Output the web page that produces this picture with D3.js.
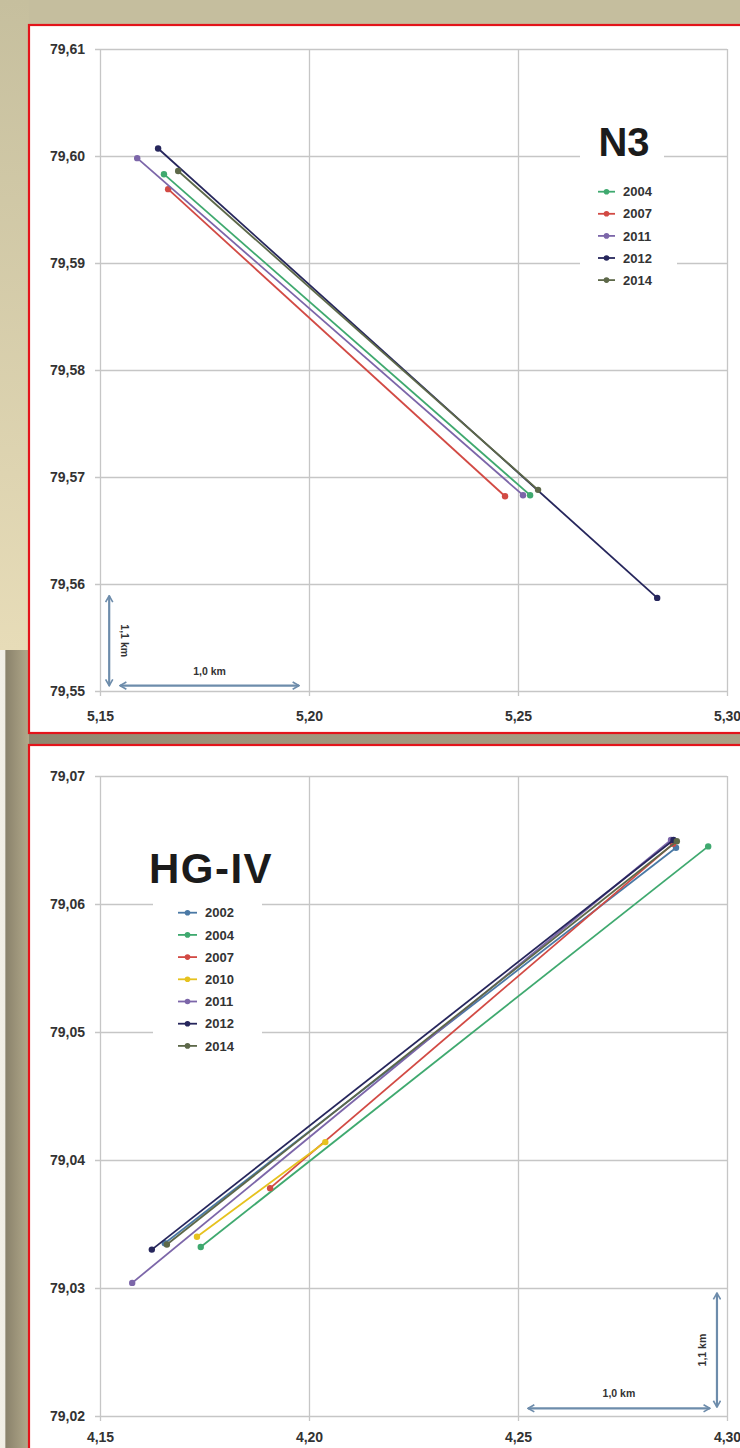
<!DOCTYPE html>
<html>
<head>
<meta charset="utf-8">
<script src="https://cdn.jsdelivr.net/npm/d3@7/dist/d3.min.js"></script>
<style>
  html, body { margin: 0; padding: 0; background: #bdb494; }
  svg { display: block; font-family: "Liberation Sans", Arial, sans-serif; }
</style>
</head>
<body>
<svg id="chart"></svg>
<script>
// glacier front positions, lon/lat pairs (start, end) per survey year
const n3Years = ["2004", "2007", "2011", "2012", "2014"]
const n3Lon = [[5.1653, 5.2529], [5.1663, 5.2469], [5.1589, 5.2512], [5.1639, 5.2833], [5.1687, 5.2548]]
const n3Lat = [[79.5983, 79.5683], [79.5969, 79.5682], [79.5998, 79.5683], [79.6007, 79.5587], [79.5986, 79.5688]]
const n3XTicks = [5.15, 5.20, 5.25, 5.30]
const n3YTicks = [79.55, 79.56, 79.57, 79.58, 79.59, 79.60, 79.61]

const hgYears = ["2002", "2004", "2007", "2010", "2011", "2012", "2014"]
const hgLon = [[4.1655, 4.2878], [4.1741, 4.2955], [4.1907, 4.2871], [4.1732, 4.2039], [4.1577, 4.2866], [4.1624, 4.2872], [4.1660, 4.2880]]
const hgLat = [[79.0335, 79.0644], [79.0332, 79.0645], [79.0378, 79.0647], [79.0340, 79.0414], [79.0304, 79.0650], [79.0330, 79.0650], [79.0334, 79.0649]]
const hgXTicks = [4.15, 4.20, 4.25, 4.30]
const hgYTicks = [79.02, 79.03, 79.04, 79.05, 79.06, 79.07]

const yearColor = {
  "2002": "#4a79a5",
  "2004": "#3fa96f",
  "2007": "#d24a44",
  "2010": "#e6c21e",
  "2011": "#7c66a9",
  "2012": "#26265c",
  "2014": "#5d6849"
}
const gridColor = "#c6c6c6"
const arrowColor = "#6d8cab"
const labelColor = "#333333"

const W = 740, H = 1448
const svg = d3.select("#chart").attr("width", W).attr("height", H)
const defs = svg.append("defs")

// background *******************************
const topGrad = defs.append("linearGradient").attr("id", "bgTop")
  .attr("x1", 0).attr("y1", 0).attr("x2", 0).attr("y2", 1)
topGrad.append("stop").attr("offset", "0%").attr("stop-color", "#c6bf9e")
topGrad.append("stop").attr("offset", "100%").attr("stop-color", "#e7dcb8")

const lowGrad = defs.append("linearGradient").attr("id", "bgLow")
  .attr("x1", 0).attr("y1", 0).attr("x2", 1).attr("y2", 0)
lowGrad.append("stop").attr("offset", "0%").attr("stop-color", "#f2efe6")
lowGrad.append("stop").attr("offset", "17%").attr("stop-color", "#f0ede4")
lowGrad.append("stop").attr("offset", "20%").attr("stop-color", "#8a826b")
lowGrad.append("stop").attr("offset", "100%").attr("stop-color", "#b2a98b")

const gapGrad = defs.append("linearGradient").attr("id", "bgGap")
  .attr("x1", 0).attr("y1", 0).attr("x2", 1).attr("y2", 0)
gapGrad.append("stop").attr("offset", "0%").attr("stop-color", "#8c846d")
gapGrad.append("stop").attr("offset", "30%").attr("stop-color", "#9c937a")
gapGrad.append("stop").attr("offset", "100%").attr("stop-color", "#aaa186")

svg.append("rect").attr("width", W).attr("height", H).attr("fill", "#c5be9e")
svg.append("rect").attr("x", 0).attr("y", 0).attr("width", 29).attr("height", 650).attr("fill", "url(#bgTop)")
svg.append("rect").attr("x", 0).attr("y", 733).attr("width", W).attr("height", 12).attr("fill", "url(#bgGap)")
svg.append("rect").attr("x", 0).attr("y", 650).attr("width", 29).attr("height", H - 650).attr("fill", "url(#bgLow)")

// arrow head for scale bars
defs.append("marker")
  .attr("id", "chev")
  .attr("viewBox", "0 0 10 10")
  .attr("refX", 9).attr("refY", 5)
  .attr("markerWidth", 9).attr("markerHeight", 9)
  .attr("markerUnits", "userSpaceOnUse")
  .attr("orient", "auto-start-reverse")
  .append("path")
  .attr("d", "M2,1 L9,5 L2,9")
  .attr("fill", "none")
  .attr("stroke", arrowColor)
  .attr("stroke-width", 1.8)

const fmt = v => d3.format(".2f")(v).replace(".", ",")

function drawPanel(cfg) {
  // red frame
  svg.append("rect")
    .attr("x", cfg.frame[0]).attr("y", cfg.frame[1])
    .attr("width", cfg.frame[2]).attr("height", cfg.frame[3])
    .attr("fill", "#ffffff")
    .attr("stroke", "#e3141b")
    .attr("stroke-width", 2.2)

  const w = cfg.plot[2], h = cfg.plot[3]
  const g = svg.append("g").attr("transform", `translate(${cfg.plot[0]}, ${cfg.plot[1]})`)

  const x = d3.scaleLinear().domain(d3.extent(cfg.xTicks)).range([0, w])
  const y = d3.scaleLinear().domain(d3.extent(cfg.yTicks)).range([h, 0])

  // axes + grid
  const xAxis = g.append("g")
    .attr("transform", `translate(0, ${h + 5})`)
    .call(d3.axisBottom(x).tickValues(cfg.xTicks).tickFormat(fmt)
      .tickSizeInner(-(h + 5)).tickSizeOuter(0).tickPadding(cfg.xPad))
  xAxis.select(".domain").remove()

  const yAxis = g.append("g")
    .attr("transform", `translate(-5, 0)`)
    .call(d3.axisLeft(y).tickValues(cfg.yTicks).tickFormat(fmt)
      .tickSizeInner(-(w + 5)).tickSizeOuter(0).tickPadding(10))
  yAxis.select(".domain").remove()

  g.selectAll(".tick line").attr("stroke", gridColor).attr("stroke-width", 1.3)
  g.selectAll(".tick text")
    .attr("fill", labelColor)
    .attr("font-size", 14)
    .attr("font-weight", "bold")
    .attr("font-family", "'Liberation Sans', Arial, sans-serif")

  // front lines
  const series = cfg.years.map((yr, i) => ({
    year: yr,
    pts: cfg.lon[i].map((lon, j) => [lon, cfg.lat[i][j]])
  }))

  const line = d3.line().x(d => x(d[0])).y(d => y(d[1]))

  const sg = g.append("g").selectAll("g")
    .data(series)
    .join("g")

  sg.append("path")
    .attr("d", d => line(d.pts))
    .attr("fill", "none")
    .attr("stroke", d => yearColor[d.year])
    .attr("stroke-width", 1.8)

  sg.selectAll("circle")
    .data(d => d.pts.map(p => ({ p, year: d.year })))
    .join("circle")
    .attr("cx", d => x(d.p[0]))
    .attr("cy", d => y(d.p[1]))
    .attr("r", 3.2)
    .attr("fill", d => yearColor[d.year])

  // title
  const t = cfg.title
  svg.append("rect")
    .attr("x", t.box[0]).attr("y", t.box[1]).attr("width", t.box[2]).attr("height", t.box[3])
    .attr("fill", "#ffffff")
  svg.append("text")
    .attr("x", t.x).attr("y", t.y)
    .attr("text-anchor", "middle")
    .attr("font-size", t.size)
    .attr("font-weight", "bold")
    .attr("letter-spacing", t.spacing)
    .attr("fill", "#1b1b1b")
    .text(t.text)

  // legend
  const L = cfg.legend
  svg.append("rect")
    .attr("x", L.box[0]).attr("y", L.box[1]).attr("width", L.box[2]).attr("height", L.box[3])
    .attr("fill", "#ffffff")
  const items = svg.append("g").selectAll("g")
    .data(cfg.years)
    .join("g")
    .attr("transform", (d, i) => `translate(${L.x}, ${L.y + i * L.step})`)
  items.append("line")
    .attr("x1", 0).attr("x2", L.len)
    .attr("stroke", d => yearColor[d]).attr("stroke-width", 1.8)
  items.append("circle")
    .attr("cx", L.len / 2).attr("r", 2.8)
    .attr("fill", d => yearColor[d])
  items.append("text")
    .attr("x", L.len + 8)
    .attr("dy", "0.36em")
    .attr("font-size", 13)
    .attr("font-weight", "bold")
    .attr("fill", labelColor)
    .text(d => d)

  // scale bars
  const s = cfg.scaleBar
  g.append("line")
    .attr("x1", x(s.h[0])).attr("x2", x(s.h[1]))
    .attr("y1", y(s.h[2])).attr("y2", y(s.h[2]))
    .attr("stroke", arrowColor).attr("stroke-width", 2.2)
    .attr("marker-start", "url(#chev)").attr("marker-end", "url(#chev)")
  g.append("text")
    .attr("x", (x(s.h[0]) + x(s.h[1])) / 2)
    .attr("y", y(s.h[2]) - 11)
    .attr("text-anchor", "middle")
    .attr("font-size", 10.5).attr("font-weight", "bold")
    .attr("fill", labelColor)
    .text("1,0 km")
  g.append("line")
    .attr("x1", x(s.v[0])).attr("x2", x(s.v[0]))
    .attr("y1", y(s.v[1])).attr("y2", y(s.v[2]))
    .attr("stroke", arrowColor).attr("stroke-width", 2.2)
    .attr("marker-start", "url(#chev)").attr("marker-end", "url(#chev)")
  const vx = x(s.v[0]) + s.vOff
  const vy = (y(s.v[1]) + y(s.v[2])) / 2
  g.append("text")
    .attr("transform", `translate(${vx}, ${vy}) rotate(${s.rot})`)
    .attr("text-anchor", "middle")
    .attr("dy", "0.35em")
    .attr("font-size", 10.5).attr("font-weight", "bold")
    .attr("fill", labelColor)
    .text("1,1 km")
}

drawPanel({
  frame: [29, 25, 740, 708],
  plot: [100, 49, 627, 642],
  xTicks: n3XTicks, yTicks: n3YTicks, xPad: 15,
  years: n3Years, lon: n3Lon, lat: n3Lat,
  title: { text: "N3", x: 624, y: 156, size: 40, spacing: 0, box: [580, 124, 84, 40] },
  legend: { x: 598, y: 191.7, step: 22.1, len: 17, box: [580, 180, 97, 112] },
  scaleBar: { h: [5.1548, 5.1976, 79.5505], v: [5.1522, 79.5589, 79.5505], vOff: 15, rot: 90 }
})

drawPanel({
  frame: [29, 745, 740, 740],
  plot: [100, 776, 627, 640],
  xTicks: hgXTicks, yTicks: hgYTicks, xPad: 11,
  years: hgYears, lon: hgLon, lat: hgLat,
  title: { text: "HG-IV", x: 211, y: 883, size: 42, spacing: 1.5, box: [140, 845, 142, 45] },
  legend: { x: 178, y: 912.7, step: 22.2, len: 19, box: [153, 898, 109, 160] },
  scaleBar: { h: [4.2524, 4.2959, 79.0206], v: [4.2976, 79.0296, 79.0207], vOff: -15, rot: -90 }
})
</script>
</body>
</html>
